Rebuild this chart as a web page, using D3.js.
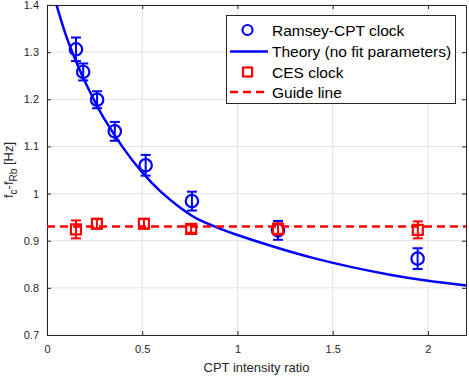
<!DOCTYPE html>
<html>
<head>
<meta charset="utf-8">
<script src="https://cdn.jsdelivr.net/npm/d3@7"></script>
<style>
    body { margin: 0; background: #fff; }
    text { font-family: "Liberation Sans", Arial, sans-serif; fill: #262626; }
</style>
</head>
<body>
<svg id="chart" width="469" height="377"></svg>
<script>
// Ramsey-CPT clock measurements
const ramseyX = [0.152, 0.19, 0.263, 0.356, 0.518, 0.761, 1.213, 1.946];
const ramseyY = [1.306, 1.258, 1.199, 1.132, 1.060, 0.984, 0.922, 0.862];
const ramseyErr = [0.025, 0.018, 0.018, 0.020, 0.022, 0.020, 0.020, 0.022];

// CES clock measurements
const cesX = [0.152, 0.262, 0.509, 0.757, 1.213, 1.947];
const cesY = [0.924, 0.936, 0.936, 0.925, 0.925, 0.923];
const cesErr = [0.019, 0.010, 0.010, 0.008, 0.012, 0.018];

// theory curve
const theoryX = [0.05, 0.10, 0.15, 0.20, 0.25, 0.30, 0.40, 0.50, 0.60, 0.70, 0.80, 0.90, 1.0, 1.2, 1.4, 1.6, 1.8, 2.0, 2.2];
const theoryY = [1.40, 1.335, 1.283, 1.237, 1.196, 1.159, 1.097, 1.045, 1.003, 0.970, 0.944, 0.927, 0.912, 0.886, 0.863, 0.844, 0.828, 0.815, 0.805];

const guideY = 0.930;

const xTicks = [0, 0.5, 1, 1.5, 2];
const yTicks = [0.7, 0.8, 0.9, 1, 1.1, 1.2, 1.3, 1.4];

const margin = { left: 47, right: 3, top: 5, bottom: 42 };
const width = 469, height = 377;
const blue = "#0000ff", red = "#ff0000";

const svg = d3.select("#chart");

const x = d3.scaleLinear()
            .domain([0, 2.2])
            .range([margin.left, width - margin.right]);
const y = d3.scaleLinear()
            .domain([0.7, 1.4])
            .range([height - margin.bottom, margin.top]);

svg.append("defs").append("clipPath")
   .attr("id", "plotClip")
   .append("rect")
   .attr("x", x(0)).attr("y", y(1.4))
   .attr("width", x(2.2) - x(0)).attr("height", y(0.7) - y(1.4));

// grid
const grid = svg.append("g").attr("class", "grid");
grid.selectAll("line.gx")
    .data(xTicks)
    .join("line")
    .attr("class", "gx")
    .attr("x1", (d) => x(d)).attr("x2", (d) => x(d))
    .attr("y1", y(0.7)).attr("y2", y(1.4))
    .style("stroke", "#e3e3e3").style("stroke-width", 1);
grid.selectAll("line.gy")
    .data(yTicks)
    .join("line")
    .attr("class", "gy")
    .attr("x1", x(0)).attr("x2", x(2.2))
    .attr("y1", (d) => y(d)).attr("y2", (d) => y(d))
    .style("stroke", "#e3e3e3").style("stroke-width", 1);

// axes, MATLAB box style with inward ticks
const fmt = (d) => String(d);
const axisStyle = (g) => {
    g.select(".domain").style("stroke", "#262626");
    g.selectAll(".tick line").style("stroke", "#262626");
    g.selectAll("text").style("font-size", "11px").style("fill", "#262626");
};
svg.append("g")
   .attr("transform", "translate(0," + y(0.7) + ")")
   .call(d3.axisBottom(x).tickValues(xTicks).tickFormat(fmt).tickSizeInner(-4).tickSizeOuter(0).tickPadding(10))
   .call(axisStyle);
svg.append("g")
   .attr("transform", "translate(0," + y(1.4) + ")")
   .call(d3.axisTop(x).tickValues(xTicks).tickFormat("").tickSizeInner(-4).tickSizeOuter(0))
   .call(axisStyle);
svg.append("g")
   .attr("transform", "translate(" + x(0) + ",0)")
   .call(d3.axisLeft(y).tickValues(yTicks).tickFormat(fmt).tickSizeInner(-4).tickSizeOuter(0).tickPadding(8))
   .call(axisStyle);
svg.append("g")
   .attr("transform", "translate(" + x(2.2) + ",0)")
   .call(d3.axisRight(y).tickValues(yTicks).tickFormat("").tickSizeInner(-4).tickSizeOuter(0))
   .call(axisStyle);

const plot = svg.append("g").attr("clip-path", "url(#plotClip)");

const ramsey = d3.range(ramseyX.length).map((i) => ({ x: ramseyX[i], y: ramseyY[i], e: ramseyErr[i] }));
const ces = d3.range(cesX.length).map((i) => ({ x: cesX[i], y: cesY[i], e: cesErr[i] }));

function drawErrorBars(g, data, color) {
    const cap = 5;
    const eb = g.append("g").selectAll("g").data(data).join("g");
    eb.append("line")
      .attr("x1", (d) => x(d.x)).attr("x2", (d) => x(d.x))
      .attr("y1", (d) => y(d.y - d.e)).attr("y2", (d) => y(d.y + d.e));
    eb.append("line")
      .attr("x1", (d) => x(d.x) - cap).attr("x2", (d) => x(d.x) + cap)
      .attr("y1", (d) => y(d.y + d.e)).attr("y2", (d) => y(d.y + d.e));
    eb.append("line")
      .attr("x1", (d) => x(d.x) - cap).attr("x2", (d) => x(d.x) + cap)
      .attr("y1", (d) => y(d.y - d.e)).attr("y2", (d) => y(d.y - d.e));
    eb.selectAll("line").style("stroke", color).style("stroke-width", 2);
}

// Ramsey error bars + circles
drawErrorBars(plot, ramsey, blue);
plot.append("g").selectAll("circle")
    .data(ramsey)
    .join("circle")
    .attr("cx", (d) => x(d.x)).attr("cy", (d) => y(d.y))
    .attr("r", 6.2)
    .style("fill", "none").style("stroke", blue).style("stroke-width", 2.2);

// theory curve
const theory = theoryX.map((d, i) => [d, theoryY[i]]);
plot.append("path")
    .datum(theory)
    .attr("d", d3.line().x((d) => x(d[0])).y((d) => y(d[1])).curve(d3.curveNatural))
    .style("fill", "none").style("stroke", blue).style("stroke-width", 2.5);

// CES error bars + squares
drawErrorBars(plot, ces, red);
plot.append("g").selectAll("rect")
    .data(ces)
    .join("rect")
    .attr("x", (d) => x(d.x) - 5).attr("y", (d) => y(d.y) - 5)
    .attr("width", 10).attr("height", 10)
    .style("fill", "none").style("stroke", red).style("stroke-width", 2.2);

// guide line
plot.append("line")
    .attr("x1", x(0)).attr("x2", x(2.2))
    .attr("y1", y(guideY)).attr("y2", y(guideY))
    .style("stroke", red).style("stroke-width", 2.5).style("stroke-dasharray", "8,5");

// axis labels
svg.append("text")
   .attr("x", (x(0) + x(2.2)) / 2).attr("y", 372)
   .style("text-anchor", "middle").style("font-size", "13px")
   .text("CPT intensity ratio");

const yLabel = svg.append("text")
   .attr("transform", "translate(13," + ((y(0.7) + y(1.4)) / 2) + ") rotate(-90)")
   .style("text-anchor", "middle").style("font-size", "13px");
yLabel.append("tspan").text("f");
yLabel.append("tspan").attr("dy", 4).style("font-size", "10px").text("c");
yLabel.append("tspan").attr("dy", -4).text("-f");
yLabel.append("tspan").attr("dy", 4).style("font-size", "10px").text("Rb");
yLabel.append("tspan").attr("dy", -4).text(" [Hz]");

// legend
const legend = svg.append("g");
legend.append("rect")
      .attr("x", 226.5).attr("y", 15.5).attr("width", 229).attr("height", 88)
      .style("fill", "#fff").style("stroke", "#262626").style("stroke-width", 1);
const legendLabels = ["Ramsey-CPT clock", "Theory (no fit parameters)", "CES clock", "Guide line"];
const rowY = [30, 51.5, 72, 92];
legendLabels.forEach((label, i) => {
    legend.append("text")
          .attr("x", 272).attr("y", rowY[i] + 5.5)
          .style("font-size", "15.5px").style("fill", "#000")
          .text(label);
});
legend.append("circle")
      .attr("cx", 247.5).attr("cy", rowY[0]).attr("r", 5)
      .style("fill", "none").style("stroke", blue).style("stroke-width", 2.2);
legend.append("line")
      .attr("x1", 230).attr("x2", 268).attr("y1", rowY[1]).attr("y2", rowY[1])
      .style("stroke", blue).style("stroke-width", 2.5);
legend.append("rect")
      .attr("x", 243).attr("y", rowY[2] - 4.5).attr("width", 9).attr("height", 9)
      .style("fill", "none").style("stroke", red).style("stroke-width", 2.2);
legend.append("line")
      .attr("x1", 230).attr("x2", 268).attr("y1", rowY[3]).attr("y2", rowY[3])
      .style("stroke", red).style("stroke-width", 2.5).style("stroke-dasharray", "8,5");
</script>
</body>
</html>
